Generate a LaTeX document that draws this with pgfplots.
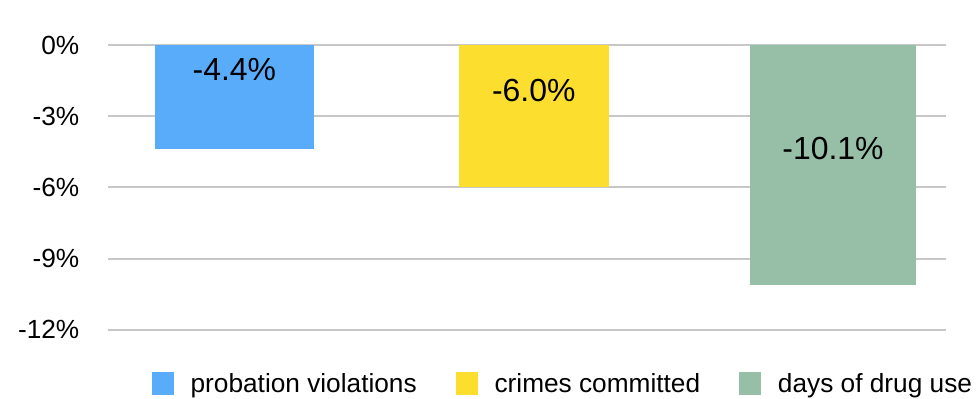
\documentclass[border=0pt]{standalone}
\usepackage{fontspec}
\setmainfont{Liberation Sans}
\usepackage{pgfplots}
\pgfplotsset{compat=1.18}
\definecolor{cblue}{HTML}{58ACF9}
\definecolor{cyellow}{HTML}{FCDF2E}
\definecolor{cgreen}{HTML}{97BFA8}
\begin{document}
\begin{tikzpicture}
\begin{axis}[
  scale only axis, width=840pt, height=340pt,
  xmin=-0.423, xmax=2.377, ymin=-12.4, ymax=1.9,
  axis line style={draw=none},
  xtick=\empty, ytick={-12,-9,-6,-3,0},
  ymajorgrids, grid style={line width=2pt, color=black!22},
  major tick length=0pt,
  yticklabel={\pgfmathprintnumber{\tick}\%},
  /pgf/number format/assume math mode=true,
  yticklabel style={font=\fontsize{26.3}{31}\selectfont, xshift=-25pt},
  clip=false,
  legend style={draw=none, fill=none, at={(0.543,-0.132)}, anchor=center,
    legend columns=3, font=\fontsize{26.3}{31}\selectfont,
    /tikz/every odd column/.append style={column sep=15pt},
    /tikz/every even column/.append style={column sep=37pt}},
  legend image code/.code={\fill[#1] (0pt,-11pt) rectangle (22pt,12pt);},
]
\addplot[ybar, bar width=160pt, bar shift=0pt, fill=cblue, draw=none] coordinates {(0,-4.4)};
\addlegendentry{probation violations}
\addplot[ybar, bar width=150pt, bar shift=0pt, fill=cyellow, draw=none] coordinates {(1,-6.0)};
\addlegendentry{crimes committed}
\addplot[ybar, bar width=166pt, bar shift=0pt, fill=cgreen, draw=none] coordinates {(2,-10.1)};
\addlegendentry{days of drug use}
\addplot[draw=none, mark=none, forget plot, nodes near coords, point meta=explicit symbolic,
  nodes near coords style={anchor=center, font=\fontsize{32}{37}\selectfont}]
  coordinates {(0,-1.05) [-4.4\%] (1,-1.9) [-6.0\%] (2,-4.35) [-10.1\%]};
\end{axis}
\path (0pt,0pt) ++(-108pt,0pt);
\end{tikzpicture}
\end{document}
